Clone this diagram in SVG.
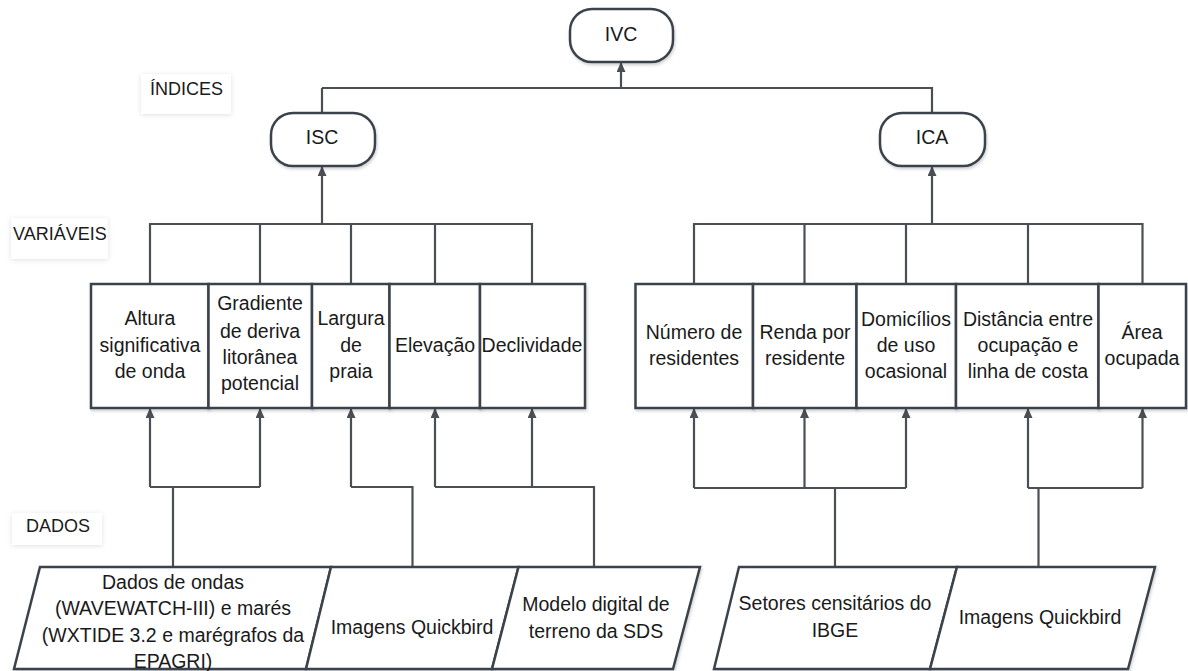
<svg xmlns="http://www.w3.org/2000/svg" width="1188" height="671" viewBox="0 0 1188 671">
<defs>
<marker id="arr" markerUnits="userSpaceOnUse" markerWidth="10" markerHeight="10" refX="10" refY="4.5" orient="auto">
<path d="M0,0 L10,4.5 L0,9 z" fill="#4a4f55"/>
</marker>
<filter id="sh" x="-10%" y="-10%" width="130%" height="140%">
<feDropShadow dx="1" dy="2" stdDeviation="1.5" flood-color="#000" flood-opacity="0.18"/>
</filter>
<filter id="lb" x="-20%" y="-40%" width="140%" height="180%">
<feDropShadow dx="0" dy="1" stdDeviation="2.5" flood-color="#000" flood-opacity="0.12"/>
</filter>
</defs>
<style>
.n{fill:#fff;stroke:#3b434b;stroke-width:2.5;filter:url(#sh)}
.t{font-family:"Liberation Sans",Arial,sans-serif;font-size:19.5px;fill:#1a1a1a;text-anchor:middle}
.l{font-family:"Liberation Sans",Arial,sans-serif;font-size:18px;fill:#1a1a1a}
.lbx{fill:#fff;stroke:none;filter:url(#lb)}
.c{fill:none;stroke:#4a4f55;stroke-width:2.2}
.a{fill:none;stroke:#4a4f55;stroke-width:2.2;marker-end:url(#arr)}
</style>
<rect width="1188" height="671" fill="#fff"/>

<g id="labels">
<rect class="lbx" x="141" y="74" width="90" height="40"/>
<text class="l" x="150" y="95">ÍNDICES</text>
<rect class="lbx" x="11" y="218" width="97" height="41"/>
<text class="l" x="13" y="240">VARIÁVEIS</text>
<rect class="lbx" x="12" y="513" width="90" height="32"/>
<text class="l" x="26" y="532">DADOS</text>
</g>

<g id="connectors">
<path class="a" d="M621,88 V62"/>
<path class="c" d="M322,88 H932 V113"/>
<path class="c" d="M322,88 V113"/>
<path class="a" d="M322,224 V166"/>
<path class="c" d="M150,284 V224 H532 V284 M260,224 V284 M351,224 V284 M435,224 V284"/>
<path class="a" d="M932,224 V166"/>
<path class="c" d="M694,284 V224 H1142.5 V284 M804.5,224 V284 M906,224 V284 M1028,224 V284"/>
<path class="a" d="M150,487 V408"/>
<path class="a" d="M260,487 V408"/>
<path class="c" d="M150,487 H260 M173,487 V567"/>
<path class="a" d="M351,487 V408"/>
<path class="c" d="M351,487 H412.5 V567"/>
<path class="a" d="M435,487 V408"/>
<path class="a" d="M532,487 V408"/>
<path class="c" d="M435,487 H594 V567"/>
<path class="a" d="M694,488 V408"/>
<path class="a" d="M804.5,488 V408"/>
<path class="a" d="M906,488 V408"/>
<path class="c" d="M694,488 H906 M835,488 V567"/>
<path class="a" d="M1028,488 V408"/>
<path class="a" d="M1142.5,488 V408"/>
<path class="c" d="M1028,488 H1142.5 M1038.5,488 V567"/>
</g>

<g id="IVC">
<rect class="n" x="570" y="9" width="103" height="53" rx="22" ry="22"/>
<text class="t" x="621" y="41">IVC</text>
</g>
<g id="ISC">
<rect class="n" x="271" y="113" width="104" height="53" rx="22" ry="22"/>
<text class="t" x="322" y="144">ISC</text>
</g>
<g id="ICA">
<rect class="n" x="880" y="113" width="105" height="53" rx="22" ry="22"/>
<text class="t" x="932" y="144">ICA</text>
</g>

<g id="v-altura">
<rect class="n" x="91" y="284" width="117.5" height="124"/>
<text class="t" x="150" y="325">Altura</text>
<text class="t" x="150" y="352">significativa</text>
<text class="t" x="150" y="378">de onda</text>
</g>
<g id="v-gradiente">
<rect class="n" x="208.5" y="284" width="103.5" height="124"/>
<text class="t" x="260" y="310">Gradiente</text>
<text class="t" x="260" y="338">de deriva</text>
<text class="t" x="260" y="364">litorânea</text>
<text class="t" x="260" y="390">potencial</text>
</g>
<g id="v-largura">
<rect class="n" x="312" y="284" width="77.5" height="124"/>
<text class="t" x="351" y="325">Largura</text>
<text class="t" x="351" y="352">de</text>
<text class="t" x="351" y="378">praia</text>
</g>
<g id="v-elevacao">
<rect class="n" x="389.5" y="284" width="90.5" height="124"/>
<text class="t" x="435" y="352">Elevação</text>
</g>
<g id="v-declividade">
<rect class="n" x="480" y="284" width="105" height="124"/>
<text class="t" x="532" y="352">Declividade</text>
</g>

<g id="v-numero">
<rect class="n" x="635.5" y="284" width="117.5" height="124"/>
<text class="t" x="694" y="339">Número de</text>
<text class="t" x="694" y="365">residentes</text>
</g>
<g id="v-renda">
<rect class="n" x="753" y="284" width="103.5" height="124"/>
<text class="t" x="805" y="339">Renda por</text>
<text class="t" x="805" y="365">residente</text>
</g>
<g id="v-domicilios">
<rect class="n" x="856.5" y="284" width="99.5" height="124"/>
<text class="t" x="906" y="326">Domicílios</text>
<text class="t" x="906" y="352">de uso</text>
<text class="t" x="906" y="378">ocasional</text>
</g>
<g id="v-distancia">
<rect class="n" x="956" y="284" width="142.5" height="124"/>
<text class="t" x="1028" y="326">Distância entre</text>
<text class="t" x="1028" y="352">ocupação e</text>
<text class="t" x="1028" y="378">linha de costa</text>
</g>
<g id="v-area">
<rect class="n" x="1098.5" y="284" width="87.5" height="124"/>
<text class="t" x="1142" y="339">Área</text>
<text class="t" x="1142" y="365">ocupada</text>
</g>

<g id="d-ondas">
<path class="n" d="M40,567 H331 L306,669 H14 Z"/>
<text class="t" x="173" y="589">Dados de ondas</text>
<text class="t" x="173" y="615">(WAVEWATCH-III) e marés</text>
<text class="t" x="173" y="642">(WXTIDE 3.2 e marégrafos da</text>
<text class="t" x="173" y="668">EPAGRI)</text>
</g>
<g id="d-quickbird1">
<path class="n" d="M331,567 H518.5 L492,669 H306 Z"/>
<text class="t" x="412" y="634">Imagens Quickbird</text>
</g>
<g id="d-modelo">
<path class="n" d="M518.5,567 H700 L673,669 H492 Z"/>
<text class="t" x="596" y="611">Modelo digital de</text>
<text class="t" x="596" y="638">terreno da SDS</text>
</g>
<g id="d-setores">
<path class="n" d="M739,567 H957 L930,669 H714 Z"/>
<text class="t" x="835" y="610">Setores censitários do</text>
<text class="t" x="835" y="637">IBGE</text>
</g>
<g id="d-quickbird2">
<path class="n" d="M957,567 H1155 L1128,669 H930 Z"/>
<text class="t" x="1040" y="624">Imagens Quickbird</text>
</g>
</svg>
